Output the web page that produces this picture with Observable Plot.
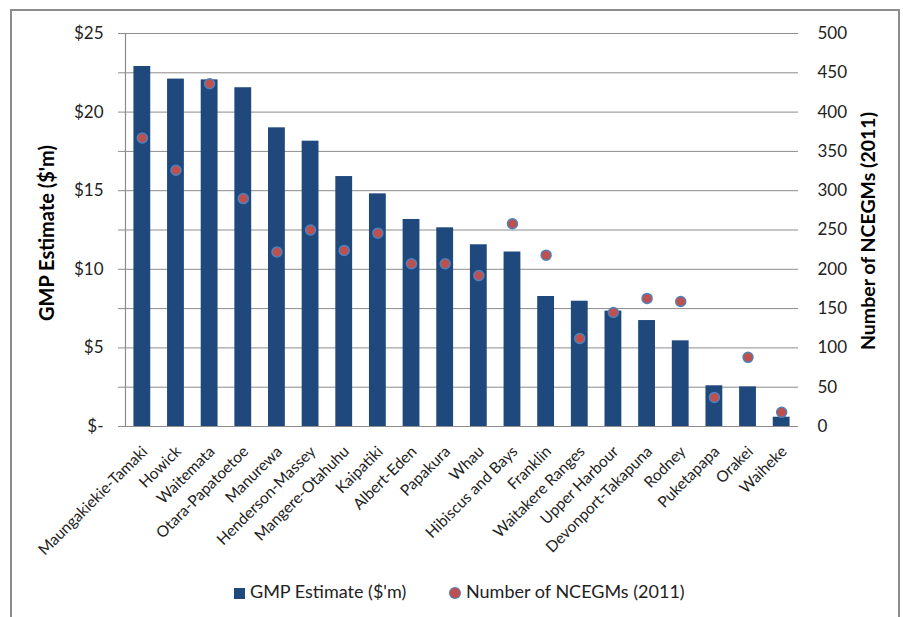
<!DOCTYPE html>
<html>
<head>
<meta charset="utf-8">
<script src="https://cdn.jsdelivr.net/npm/d3@7"></script>
<script src="https://cdn.jsdelivr.net/npm/@observablehq/plot@0.6"></script>
<style>
  html, body { margin: 0; padding: 0; background: #fff; }
  #wrap { position: relative; width: 903px; height: 617px; overflow: hidden; font-family: Lato, "Open Sans", sans-serif; }
  #border { position: absolute; left: 10px; top: 9px; width: 890px; height: 640px; border: 2px solid #8c8c8c; box-sizing: border-box; }
  #chart { position: absolute; left: 0; top: 0; }
  .leg { position: absolute; top: 579px; font-size: 18px; color: #222; white-space: nowrap; line-height: 24px; }
  .sw { display: inline-block; width: 11px; height: 11px; background: #1F497D; margin-right: 5px; vertical-align: -1px; }
  .dt { display: inline-block; width: 10px; height: 10px; border-radius: 50%; background: #C0504D; box-shadow: 0 0 0 1px #4F81BD; margin-right: 6px; vertical-align: 0px; }
</style>
</head>
<body>
<div id="wrap">
  <div id="border"></div>
  <div id="chart"></div>
  <div class="leg" style="left:234px"><span class="sw"></span>GMP Estimate ($'m)</div>
  <div class="leg" style="left:450px"><span class="dt"></span>Number of NCEGMs (2011)</div>
</div>
<script>
// Auckland local boards, ordered by GMP estimate
const regions = [
  "Maungakiekie-Tamaki", "Howick", "Waitemata", "Otara-Papatoetoe", "Manurewa",
  "Henderson-Massey", "Mangere-Otahuhu", "Kaipatiki", "Albert-Eden", "Papakura",
  "Whau", "Hibiscus and Bays", "Franklin", "Waitakere Ranges", "Upper Harbour",
  "Devonport-Takapuna", "Rodney", "Puketapapa", "Orakei", "Waiheke"
];
// GMP estimate, $ millions (left axis)
const gmp = [22.9, 22.1, 22.05, 21.55, 19.0, 18.15, 15.9, 14.8, 13.17, 12.64,
             11.56, 11.1, 8.27, 7.97, 7.34, 6.74, 5.45, 2.59, 2.52, 0.59];
// Number of non-casino electronic gaming machines, 2011 (right axis)
const ncegms = [367, 326, 436, 290, 222, 250, 224, 246, 207, 207,
                192, 258, 218, 112, 145, 163, 159, 37, 88, 18];

// Left axis ticks ($'m) and right axis ticks (machines)
const gmpTicks = [0, 2.5, 5, 7.5, 10, 12.5, 15, 17.5, 20, 22.5, 25];
const countTicks = [0, 50, 100, 150, 200, 250, 300, 350, 400, 450, 500];

// the right axis shares the y scale: 500 machines ↔ $25m
const ratio = 500 / 25;

const data = regions.map((region, i) => ({region, gmp: gmp[i], n: ncegms[i]}));

const chart = Plot.plot({
  width: 903,
  height: 575,
  marginLeft: 125,
  marginRight: 105,
  marginTop: 33,
  marginBottom: 149,
  style: {fontFamily: "Lato, 'Open Sans', sans-serif", background: "transparent", color: "#222"},
  x: {domain: regions, paddingInner: 0.5, paddingOuter: 0.25, round: false, axis: null},
  y: {domain: [0, 25], axis: null},
  marks: [
    Plot.gridY(gmpTicks.filter(d => d > 0), {stroke: "#8c8c8c", strokeOpacity: 1, strokeWidth: 1}),
    Plot.barY(data, {x: "region", y: "gmp", fill: "#1F497D"}),
    Plot.dot(data, {x: "region", y: d => d.n / ratio, r: 5, fill: "#C0504D", stroke: "#4F81BD", strokeWidth: 1.5}),
    Plot.ruleY([0], {stroke: "#8c8c8c", strokeWidth: 1.2}),
    Plot.frame({anchor: "left", stroke: "#8c8c8c", strokeWidth: 1.2}),
    Plot.axisY(gmpTicks, {
      anchor: "left", tickSize: 7, tickPadding: 15, fontSize: 17, stroke: "#8c8c8c",
      tickFormat: d => d % 5 !== 0 ? "" : d === 0 ? "$-" : "$" + d, label: null
    }),
    Plot.axisY(countTicks.map(d => d / ratio), {
      anchor: "right", tickSize: 0, tickPadding: 19, fontSize: 17, textAnchor: "start",
      tickFormat: d => String(Math.round(d * ratio)), label: null
    }),
    Plot.text(data, {
      x: "region", frameAnchor: "bottom", text: "region",
      rotate: -45, textAnchor: "end", dx: 6, dy: 26, fontSize: 15.5
    }),
    Plot.text(["GMP Estimate ($'m)"], {
      frameAnchor: "left", textAnchor: "middle", rotate: -90, dx: -78, dy: 3,
      fontSize: 20, fontWeight: "bold", fill: "#000"
    }),
    Plot.text(["Number of NCEGMs (2011)"], {
      frameAnchor: "right", textAnchor: "middle", rotate: -90, dx: 70, dy: 1,
      fontSize: 19.5, fontWeight: "bold", fill: "#000"
    })
  ]
});
document.getElementById("chart").appendChild(chart);
</script>
</body>
</html>
